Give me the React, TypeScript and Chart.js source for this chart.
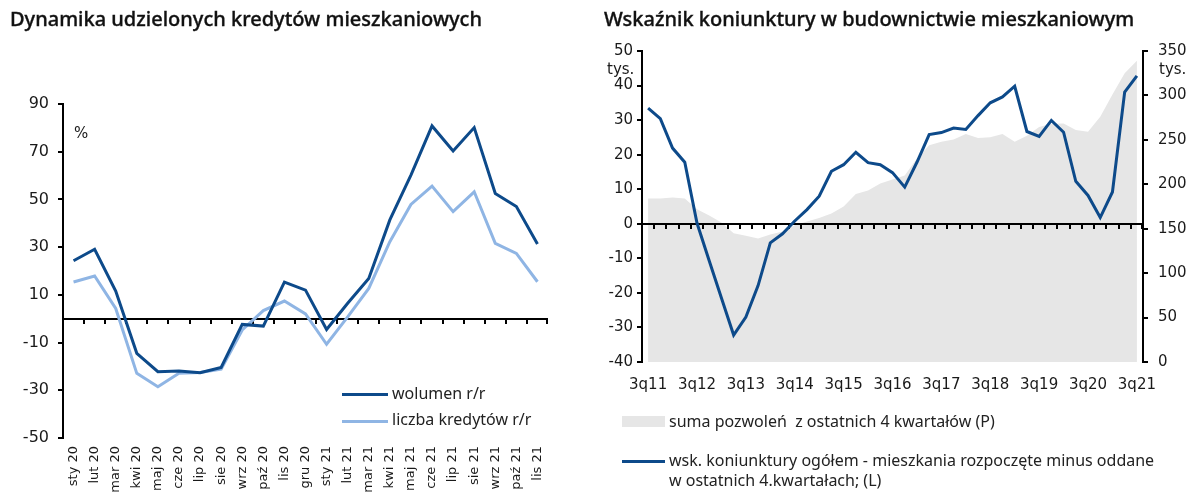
import React, { useEffect, useRef } from 'react';
import { Chart, registerables } from 'chart.js';

Chart.register(...registerables);

// ---------- LEFT CHART DATA ----------
const monthLabels = ['sty 20', 'lut 20', 'mar 20', 'kwi 20', 'maj 20', 'cze 20', 'lip 20', 'sie 20', 'wrz 20', 'paź 20', 'lis 20', 'gru 20', 'sty 21', 'lut 21', 'mar 21', 'kwi 21', 'maj 21', 'cze 21', 'lip 21', 'sie 21', 'wrz 21', 'paź 21', 'lis 21'];
const wolumen = [24.3, 29.1, 11.6, -14.5, -22.2, -21.9, -22.6, -20.4, -2.4, -3.1, 15.3, 12.0, -4.5, 6.5, 16.9, 41.4, 60.2, 80.8, 70.3, 80.1, 52.5, 47.0, 31.3];
const liczba = [15.4, 17.9, 4.3, -22.9, -28.5, -22.9, -22.5, -21.1, -4.7, 3.4, 7.4, 2.0, -10.7, 0.8, 12.7, 32.3, 47.9, 55.6, 44.9, 53.2, 31.6, 27.4, 15.5];
const leftYMin = -50;
const leftYMax = 90;
const leftYStep = 20;

// ---------- RIGHT CHART DATA ----------
const quarterLabels = ['3q11', '4q11', '1q12', '2q12', '3q12', '4q12', '1q13', '2q13', '3q13', '4q13', '1q14', '2q14', '3q14', '4q14', '1q15', '2q15', '3q15', '4q15', '1q16', '2q16', '3q16', '4q16', '1q17', '2q17', '3q17', '4q17', '1q18', '2q18', '3q18', '4q18', '1q19', '2q19', '3q19', '4q19', '1q20', '2q20', '3q20', '4q20', '1q21', '2q21', '3q21'];
const koniunktura = [33.5, 30.4, 21.9, 17.8, 0.2, -10.7, -21.5, -32.2, -27.0, -17.9, -5.5, -2.9, 0.8, 4.1, 8.0, 15.2, 17.1, 20.7, 17.7, 17.1, 14.8, 10.6, 17.8, 25.8, 26.4, 27.7, 27.3, 31.3, 35.0, 36.7, 39.8, 26.7, 25.3, 29.9, 26.5, 12.3, 8.2, 1.8, 9.2, 38.1, 42.8];
const pozwolenia = [184, 184, 185, 184, 172, 165, 157, 145, 142, 139, 143.5, 147, 154, 158, 162, 167, 175, 189, 193, 201, 205.5, 210, 229, 244, 248, 250.5, 256.5, 252, 253, 256.5, 248, 254.5, 264.5, 268, 268.5, 261, 259, 276, 301, 325, 339];
const rightLMin = -40;
const rightLMax = 50;
const rightLStep = 10;
const rightRMin = 0;
const rightRMax = 350;
const rightRStep = 50;

const DARK = '#0d4a8a';
const LIGHT = '#8fb5e4';
const AREA = '#e6e6e6';
const TXT = '#1a1a1a';
const TICK_FONT = 'DejaVu Sans';
const TEXT_FONT = '"Noto Sans", sans-serif';

function drawZeroLine(chart: any, yId: string) {
  const { ctx, chartArea, scales } = chart;
  const xs = scales.x;
  const ys = scales[yId];
  const py = Math.round(ys.getPixelForValue(0));
  const n = chart.data.labels.length;
  ctx.save();
  ctx.strokeStyle = '#000';
  ctx.lineWidth = 2;
  ctx.beginPath();
  ctx.moveTo(chartArea.left, py);
  ctx.lineTo(chartArea.right, py);
  for (let i = 1; i <= n; i++) {
    const bx = i === n ? chartArea.right - 1 : Math.round((xs.getPixelForValue(i - 1) + xs.getPixelForValue(i)) / 2);
    ctx.moveTo(bx, py);
    ctx.lineTo(bx, py + 5);
  }
  ctx.stroke();
  ctx.restore();
}

function LeftChart() {
  const ref = useRef<HTMLCanvasElement>(null);
  useEffect(() => {
    const chart = new Chart(ref.current as HTMLCanvasElement, {
      type: 'line',
      data: {
        labels: monthLabels,
        datasets: [
          { label: 'wolumen r/r', data: wolumen, borderColor: DARK, borderWidth: 3, pointRadius: 0, tension: 0, fill: false },
          { label: 'liczba kredytów r/r', data: liczba, borderColor: LIGHT, borderWidth: 3, pointRadius: 0, tension: 0, fill: false },
        ],
      },
      options: {
        animation: false,
        responsive: false,
        devicePixelRatio: 1,
        layout: { padding: { top: 104, right: 42, left: 0, bottom: 0 } },
        plugins: { legend: { display: false }, tooltip: { enabled: false } },
        scales: {
          x: {
            type: 'category',
            offset: true,
            grid: { display: false, drawTicks: false },
            border: { display: false },
            ticks: {
              autoSkip: false,
              minRotation: 90,
              maxRotation: 90,
              padding: 8,
              color: TXT,
              font: { family: TICK_FONT, size: 13 },
            },
            afterFit: (s: any) => { s.height = 62; },
          },
          y: {
            min: leftYMin,
            max: leftYMax,
            grid: { display: true, drawOnChartArea: false, drawTicks: true, tickLength: 5, color: '#000', lineWidth: 2 },
            border: { display: true, color: '#000', width: 2 },
            ticks: { stepSize: leftYStep, padding: 9, color: TXT, font: { family: TICK_FONT, size: 16 } },
            afterFit: (s: any) => { s.width = 63; },
          },
        },
      },
      plugins: [{ id: 'zeroL', beforeDatasetsDraw: (c: any) => drawZeroLine(c, 'y') }],
    } as any);
    return () => chart.destroy();
  }, []);
  return <canvas ref={ref} width={590} height={500} style={{ position: 'absolute', left: 0, top: 0, width: 590, height: 500 }} />;
}

function RightChart() {
  const ref = useRef<HTMLCanvasElement>(null);
  useEffect(() => {
    const chart = new Chart(ref.current as HTMLCanvasElement, {
      type: 'line',
      data: {
        labels: quarterLabels,
        datasets: [
          { label: 'wsk. koniunktury ogółem', data: koniunktura, yAxisID: 'yL', borderColor: DARK, borderWidth: 3, pointRadius: 0, tension: 0, fill: false },
          { label: 'suma pozwoleń', data: pozwolenia, yAxisID: 'yR', borderWidth: 0, borderColor: AREA, backgroundColor: AREA, pointRadius: 0, tension: 0, fill: 'origin' },
        ],
      },
      options: {
        animation: false,
        responsive: false,
        devicePixelRatio: 1,
        layout: { padding: { top: 51, right: 0, left: 0, bottom: 0 } },
        plugins: { legend: { display: false }, tooltip: { enabled: false } },
        scales: {
          x: {
            type: 'category',
            offset: true,
            grid: { display: false, drawTicks: false },
            border: { display: false },
            ticks: {
              autoSkip: false,
              maxRotation: 0,
              minRotation: 0,
              padding: 14,
              color: TXT,
              font: { family: TICK_FONT, size: 15 },
              callback: (_v: any, i: number) => (i % 4 === 0 ? quarterLabels[i] : ''),
            },
            afterFit: (s: any) => { s.height = 138; },
          },
          yL: {
            position: 'left',
            min: rightLMin,
            max: rightLMax,
            grid: { display: true, drawOnChartArea: false, drawTicks: true, tickLength: 5, color: '#000', lineWidth: 2 },
            border: { display: true, color: '#000', width: 2 },
            ticks: { stepSize: rightLStep, padding: 4, color: TXT, font: { family: TICK_FONT, size: 15 } },
            afterFit: (s: any) => { s.width = 52; },
          },
          yR: {
            position: 'right',
            min: rightRMin,
            max: rightRMax,
            grid: { display: true, drawOnChartArea: false, drawTicks: true, tickLength: 5, color: '#000', lineWidth: 2 },
            border: { display: true, color: '#000', width: 2 },
            ticks: { stepSize: rightRStep, padding: 10, color: TXT, font: { family: TICK_FONT, size: 15 } },
            afterFit: (s: any) => { s.width = 55; },
          },
        },
      },
      plugins: [{
        id: 'zeroR',
        afterDatasetDraw: (c: any, args: any) => { if (args.index === 1) drawZeroLine(c, 'yL'); },
      }],
    } as any);
    return () => chart.destroy();
  }, []);
  return <canvas ref={ref} width={608} height={500} style={{ position: 'absolute', left: 590, top: 0, width: 608, height: 500 }} />;
}

const abs = (left: number, top: number, extra: any = {}) => ({ position: 'absolute' as const, left, top, ...extra });
const titleStyle = { fontFamily: TEXT_FONT, fontSize: 20, lineHeight: '24px', color: '#111', whiteSpace: 'nowrap' as const, fontWeight: 500, WebkitTextStroke: '0.35px #111' };
const legStyle = { fontFamily: TEXT_FONT, fontSize: 16, lineHeight: '20px', color: '#222', whiteSpace: 'nowrap' as const };
const tickTextStyle = { fontFamily: TICK_FONT, fontSize: 15, lineHeight: '18px', color: TXT, whiteSpace: 'nowrap' as const };

export default function App() {
  return (
    <div style={{ position: 'absolute', left: 0, top: 0, width: 1198, height: 500, background: '#fff', overflow: 'hidden' }}>
      <LeftChart />
      <RightChart />
      <div style={abs(10, 7, titleStyle)}>Dynamika udzielonych kredytów mieszkaniowych</div>
      <div style={abs(604, 7, titleStyle)}>Wskaźnik koniunktury w budownictwie mieszkaniowym</div>

      <div style={abs(74, 124, tickTextStyle)}>%</div>
      <div style={abs(607, 60, tickTextStyle)}>tys.</div>
      <div style={abs(1159, 60, tickTextStyle)}>tys.</div>

      <div style={abs(342, 393, { width: 46, height: 3, background: DARK })} />
      <div style={abs(392, 383, legStyle)}>wolumen r/r</div>
      <div style={abs(342, 420, { width: 46, height: 3, background: LIGHT })} />
      <div style={abs(392, 409, legStyle)}>liczba kredytów r/r</div>

      <div style={abs(622, 416, { width: 43, height: 11, background: AREA })} />
      <div style={abs(669, 411, legStyle)}>suma pozwoleń&nbsp; z ostatnich 4 kwartałów (P)</div>
      <div style={abs(622, 460, { width: 43, height: 3, background: DARK })} />
      <div style={abs(669, 450, legStyle)}>wsk. koniunktury ogółem - mieszkania rozpoczęte minus oddane<br />w ostatnich 4.kwartałach; (L)</div>
    </div>
  );
}
